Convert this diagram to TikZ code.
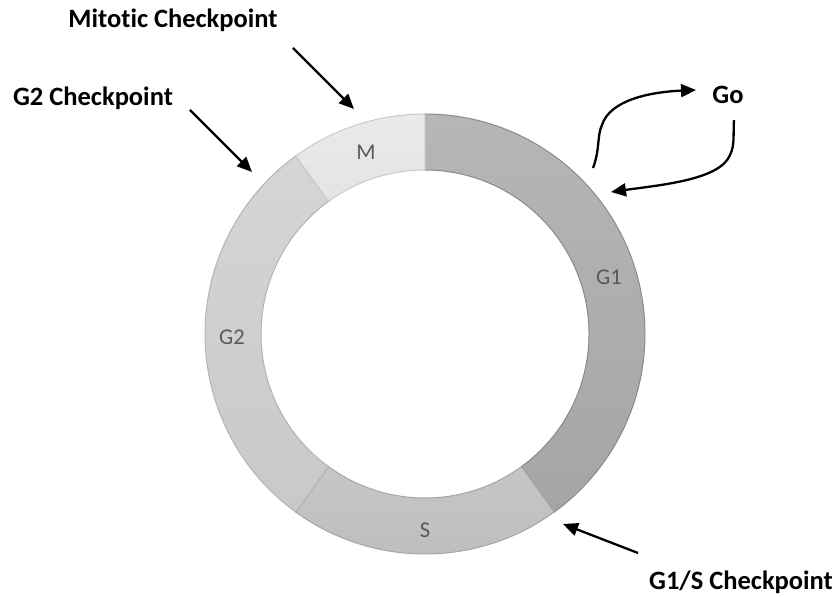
\documentclass[tikz,border=0pt]{standalone}
\usepackage{fontspec}
\setmainfont{Carlito}[Ligatures=NoCommon]
\usetikzlibrary{arrows.meta,calc}
\definecolor{gOneT}{HTML}{B6B6B6}
\definecolor{gOneBt}{HTML}{A5A5A5}
\definecolor{gOneB}{HTML}{8A8A8A}
\definecolor{sPhT}{HTML}{C6C6C6}
\definecolor{sPhBt}{HTML}{BDBDBD}
\definecolor{sPhB}{HTML}{A6A6A6}
\definecolor{gTwoT}{HTML}{D5D5D5}
\definecolor{gTwoBt}{HTML}{C9C9C9}
\definecolor{gTwoB}{HTML}{B4B4B4}
\definecolor{mPhT}{HTML}{EAEAEA}
\definecolor{mPhBt}{HTML}{E4E4E4}
\definecolor{mPhB}{HTML}{C9C9C9}
\definecolor{labgray}{HTML}{595959}
\tikzset{
  checklabel/.style={font=\fontsize{26.5}{30}\selectfont\bfseries, text=black, inner sep=0pt},
  phaselabel/.style={font=\fontsize{22.5}{26}\selectfont, text=labgray, inner sep=0pt},
  ptr/.style={line width=2.3pt, -{Triangle[length=15pt,width=13pt]}},
  seg/.style={line width=1pt}
}
\newcommand{\ringseg}[6]{% start angle, end angle, top fill, bottom fill, border
  \path[seg, top color=#3, bottom color=#4, draw=#5] ($(ctr)+(#1:220)$) arc[start angle=#1, end angle=#2, radius=220]
    -- ($(ctr)+(#2:164)$) arc[start angle=#2, end angle=#1, radius=164] -- cycle;
}
\begin{document}
\begin{tikzpicture}[x=1pt,y=1pt]
\useasboundingbox (0,0) rectangle (836,597);
\coordinate (ctr) at (425,263);
% ring segments
\ringseg{90}{-54}{gOneT}{gOneBt}{gOneB}{}
\ringseg{-54}{-126}{sPhT}{sPhBt}{sPhB}{}
\ringseg{-126}{-234}{gTwoT}{gTwoBt}{gTwoB}{}
\ringseg{126}{90}{mPhT}{mPhBt}{mPhB}{}
% phase labels
\node[phaselabel] (lm) at (366,445) {M};
\node[phaselabel] (lg1) at (609,320) {G1};
\node[phaselabel] (lg2) at (232,260) {G2};
\node[phaselabel] (ls) at (425,67) {S};
% checkpoint labels
\node[checklabel] (mit) at (173,577) {Mitotic Checkpoint};
\node[checklabel] (g2c) at (93,499) {G2 Checkpoint};
\node[checklabel] (go) at (728,502) {Go};
\node[checklabel] (g1s) at (741,15) {G1/S Checkpoint};
% arrow ends
\coordinate (mitA) at (293,549);
\coordinate (mitB) at (354,488);
\coordinate (g2A) at (190,487);
\coordinate (g2B) at (252,425);
\coordinate (g1sA) at (638,44);
\coordinate (g1sB) at (563,73);
\coordinate (goA) at (593,429);
\coordinate (goB) at (696,507);
\coordinate (goC) at (734,477);
\coordinate (goD) at (611,405);
\draw[ptr] (mitA) -- (mitB);
\draw[ptr] (g2A) -- (g2B);
\draw[ptr] (g1sA) -- (g1sB);
\draw[ptr] (goA) .. controls (600,447) and (597,462) .. (602,472) .. controls (610,497) and (650,505) .. (goB);
\draw[ptr] (goC) .. controls (733,462) and (735,452) .. (730,442) .. controls (720,417) and (660,412) .. (goD);
\end{tikzpicture}
\end{document}
